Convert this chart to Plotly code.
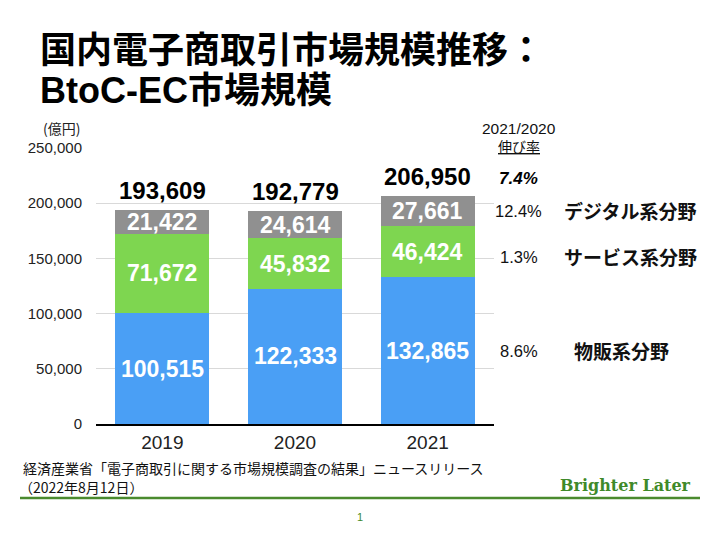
import plotly.graph_objects as go

# BtoC-EC market size (100 million yen)
years = ["2019", "2020", "2021"]
butsuhan = [100515, 122333, 132865]   # 物販系分野
service = [71672, 45832, 46424]       # サービス系分野
digital = [21422, 24614, 27661]       # デジタル系分野
totals = [193609, 192779, 206950]

segment_names = ["物販系分野", "サービス系分野", "デジタル系分野"]
segment_growth = ["8.6%", "1.3%", "12.4%"]
total_growth = "7.4%"

y_ticks = [0, 50000, 100000, 150000, 200000, 250000]

NUM_FONT = "Liberation Sans, Arial, Noto Sans CJK JP"
JP_FONT = "Noto Sans CJK JP, Liberation Sans"
colors = ["#4A9FF5", "#7ED650", "#909090"]
series = [butsuhan, service, digital]
xpos = list(range(len(years)))

# page has an 8px body margin, so the figure is a bit smaller than the window
W, H, OFF = 712, 532, 8


def px_x(x):
    return (x - OFF) / W


def px_y(y):
    return 1 - (y - OFF) / H


fig = go.Figure()
for name, vals, col in zip(segment_names, series, colors):
    fig.add_trace(go.Bar(x=xpos, y=vals, name=name, marker_color=col,
                         marker_line_width=0, width=0.71))


def label(x, y, text, size, color="#111", family=NUM_FONT, xref="x", yref="y",
          xanchor="center", yanchor="middle", yshift=0):
    fig.add_annotation(x=x, y=y, xref=xref, yref=yref, text=text, showarrow=False,
                       xanchor=xanchor, yanchor=yanchor, yshift=yshift,
                       font=dict(family=family, size=size, color=color))


# value labels in the middle of every segment, totals on top
for i in xpos:
    base = 0
    for vals in series:
        v = vals[i]
        label(i, base + v / 2, f"<b>{v:,}</b>", 23, "white")
        base += v
    label(i, totals[i], f"<b>{totals[i]:,}</b>", 24, "black", yanchor="bottom", yshift=4)

# growth column, one row per segment of the 2021 bar
label(px_x(519), totals[-1], f"<b><i>{total_growth}</i></b>", 17, "black",
      xref="paper", yanchor="bottom", yshift=6)
base = 0
name_x = [621, 630, 630]
row_shift = [0, -5, 0]
for name, g, vals, nx, sh in zip(segment_names, segment_growth, series, name_x, row_shift):
    mid = base + vals[-1] / 2
    base += vals[-1]
    label(px_x(519), mid, g, 16.5, xref="paper", yshift=sh)
    label(px_x(nx), mid, f"<b>{name}</b>", 19, family=JP_FONT, xref="paper", yshift=sh)

label(px_x(519), px_y(128), "2021/2020", 15.5, xref="paper", yref="paper")
label(px_x(519), px_y(146), "<u>伸び率</u>", 14, family=JP_FONT, xref="paper", yref="paper")
label(px_x(61), px_y(128), "(億円)", 14, "#222", family=JP_FONT, xref="paper", yref="paper")

# title
label(px_x(38), px_y(47), "<b>国内電子商取引市場規模推移：</b>", 36, "black",
      family=JP_FONT, xref="paper", yref="paper", xanchor="left")
label(px_x(38), px_y(91), "<b>BtoC-EC市場規模</b>", 36, "black",
      xref="paper", yref="paper", xanchor="left")

# footer
label(px_x(21), px_y(468), "経済産業省「電子商取引に関する市場規模調査の結果」ニュースリリース",
      14, family=JP_FONT, xref="paper", yref="paper", xanchor="left")
label(px_x(17), px_y(487), "（2022年8月12日）", 14, family=JP_FONT,
      xref="paper", yref="paper", xanchor="left")
label(px_x(625), px_y(485), "<b>Brighter Later</b>", 16, "#3F8A2A", family="DejaVu Serif",
      xref="paper", yref="paper")
label(px_x(360), px_y(517), "1", 11, "#3F8A2A", xref="paper", yref="paper")
fig.add_shape(type="line", xref="paper", yref="paper", x0=px_x(20), x1=px_x(700),
              y0=px_y(498), y1=px_y(498), line=dict(color="#4A8A2E", width=2.5))

fig.update_layout(
    width=W, height=H,
    margin=dict(l=0, r=0, t=0, b=0),
    paper_bgcolor="white", plot_bgcolor="white",
    barmode="stack",
    showlegend=False,
    xaxis=dict(domain=[px_x(96), px_x(494)], range=[-0.5, 2.5], automargin=False,
               tickvals=xpos, ticktext=years, showgrid=False, zeroline=False,
               showline=True, linecolor="black", linewidth=1.5,
               tickfont=dict(family=NUM_FONT, size=19, color="#222"), ticks=""),
    yaxis=dict(domain=[px_y(424), px_y(148)], range=[0, 250000], tickvals=y_ticks,
               automargin=False, tickformat=",", showgrid=True, gridcolor="#D9D9D9",
               gridwidth=1, zeroline=False, showline=False,
               tickfont=dict(family=NUM_FONT, size=15, color="#222"),
               ticks="outside", ticklen=10, tickcolor="white"),
)

fig.write_html("out.html")
